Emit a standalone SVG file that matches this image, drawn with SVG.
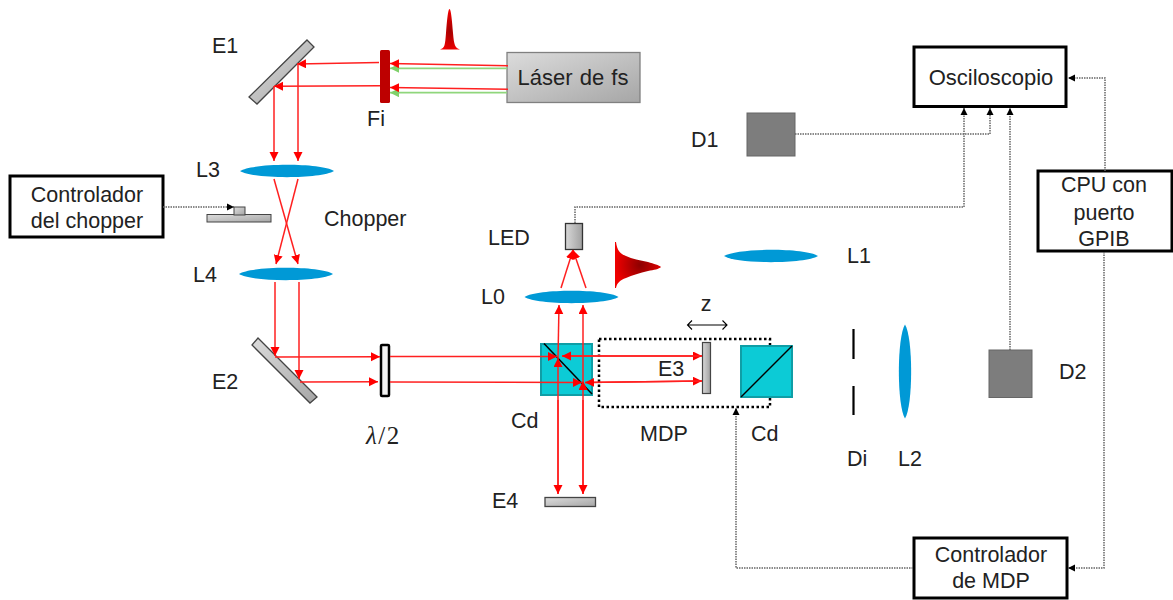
<svg xmlns="http://www.w3.org/2000/svg" width="1173" height="600" viewBox="0 0 1173 600">
<defs>
<linearGradient id="gm" x1="0" y1="0" x2="1" y2="1"><stop offset="0" stop-color="#dcdcdc"/><stop offset="1" stop-color="#a6a6a6"/></linearGradient>
<linearGradient id="gv" x1="0" y1="0" x2="1" y2="0"><stop offset="0" stop-color="#d8d8d8"/><stop offset="1" stop-color="#a0a0a0"/></linearGradient>
<radialGradient id="gp1" cx="0.5" cy="0.55" r="0.6"><stop offset="0" stop-color="#a00000"/><stop offset="1" stop-color="#ff0000"/></radialGradient>
<radialGradient id="gp2" cx="0.55" cy="0.5" r="0.55"><stop offset="0" stop-color="#8c0000"/><stop offset="1" stop-color="#f00000"/></radialGradient>
<path id="lens" d="M-47 0C-34 -8.200 34 -8.200 47 0C34 8.200 -34 8.200 -47 0Z" fill="#0099d6"/>
<marker id="r" markerUnits="userSpaceOnUse" markerWidth="10" markerHeight="10" refX="9" refY="4.500" orient="auto"><path d="M0 0L9 4.500L0 9Z" fill="#ff0000"/></marker>
<marker id="g" markerUnits="userSpaceOnUse" markerWidth="10" markerHeight="10" refX="9" refY="4.500" orient="auto"><path d="M0 0L9 4.500L0 9Z" fill="#7fd06a"/></marker>
<marker id="k" markerUnits="userSpaceOnUse" markerWidth="8" markerHeight="8" refX="7" refY="4" orient="auto"><path d="M0 0.500L7 4L0 7.500Z" fill="#000"/></marker>
</defs>
<style>
text{font-family:"Liberation Sans",Arial,sans-serif;font-size:21.5px;fill:#222}
.m{text-anchor:middle}
.box{fill:#fff;stroke:#000;stroke-width:3}
.cube{fill:#0ccbd6;stroke:#0f9ea6;stroke-width:2}
.mir{fill:url(#gm);stroke:#444;stroke-width:1.3}
.rb{fill:none;stroke:#ff2020;stroke-width:1.5}
.gb{fill:none;stroke:#8fd67c;stroke-width:1.8}
.el{fill:none;stroke:#666;stroke-width:1.5;stroke-dasharray:1.5 1}
.det{fill:#7d7d7d;stroke:#666;stroke-width:1}
</style>

<g id="E1"><path d="M307 40L314 47L257 104L249 97Z" class="mir"/><text x="212" y="53">E1</text></g>
<g id="Fi"><rect x="380" y="50" width="10" height="53" rx="1.500" fill="#bd0000"/><text x="367" y="126">Fi</text></g>
<g id="pulse1"><path d="M440 49.500C445 48 445 45 446 33C447 20 448 9 449.500 9C451 9 452 20 453 33C454 45 455 48 460 49.500Z" fill="url(#gp1)"/></g>
<g id="laser"><rect x="507" y="52.500" width="133" height="50" fill="url(#gm)" stroke="#808080" stroke-width="1.300"/><text x="573" y="85" class="m" style="font-size:22px;word-spacing:1px">Láser de fs</text></g>
<g id="L3"><use href="#lens" x="287" y="171"/><text x="196" y="177">L3</text></g>
<g id="chopper"><rect x="207" y="214.500" width="64" height="7.500" fill="url(#gm)" stroke="#444" stroke-width="1"/><rect x="234" y="207" width="11" height="8" fill="url(#gm)" stroke="#444" stroke-width="1"/><text x="324" y="226">Chopper</text></g>
<g id="ctrl-chopper"><rect x="10" y="176" width="153" height="61" class="box"/><text x="87" y="202" class="m">Controlador</text><text x="87" y="228" class="m">del chopper</text></g>
<g id="L4"><use href="#lens" x="286" y="274"/><text x="193" y="282">L4</text></g>
<g id="E2"><path d="M258 338L317 397L310 403L252 345Z" class="mir"/><text x="212" y="389">E2</text></g>
<g id="waveplate"><rect x="381" y="345" width="8" height="51" rx="1" fill="#f2f2f2" stroke="#000" stroke-width="2.500"/><text x="366" y="444" style="font-family:'Liberation Serif',serif;font-size:25px;letter-spacing:1.500px"><tspan font-style="italic">λ</tspan>/2</text></g>
<g id="LED"><rect x="565.500" y="223.500" width="17" height="26" fill="url(#gv)" stroke="#333" stroke-width="1.300"/><text x="488" y="245">LED</text></g>
<g id="L0"><use href="#lens" x="571.500" y="297"/><text x="481" y="304">L0</text></g>
<g id="pulse2"><path d="M615 242L616 242C617 250 620 254 626 256C632 259 640 260 648 262C654 264 659 265 661 267C659 269 654 270 648 271C640 273 632 275 626 278C620 280 617 283 616 288L615 288Z" fill="url(#gp2)"/></g>
<g id="L1"><use href="#lens" x="771" y="256"/><text x="847" y="263">L1</text></g>
<g id="MDP"><rect x="599" y="339" width="171" height="68" fill="none" stroke="#000" stroke-width="2.500" stroke-dasharray="2.500 2.500"/><text x="640" y="441">MDP</text></g>
<g id="Cd1"><rect x="541" y="344" width="51" height="51" class="cube"/><path d="M544 343.500L592 394" stroke="#000" stroke-width="1.500"/><text x="511" y="428">Cd</text></g>
<g id="E3"><rect x="702.500" y="342.500" width="8" height="51" fill="url(#gv)" stroke="#444" stroke-width="1.200"/><text x="658" y="376">E3</text></g>
<g id="z"><text x="706" y="311" class="m">z</text></g>
<g id="Cd2"><rect x="741" y="346" width="51" height="51" class="cube"/><path d="M741 397L792 346" stroke="#000" stroke-width="1.500"/><text x="751" y="441">Cd</text></g>
<g id="E4"><rect x="545" y="497.500" width="50.500" height="9" fill="url(#gm)" stroke="#444" stroke-width="1.300"/><text x="492" y="508">E4</text></g>
<g id="Di"><path d="M853.500 329V359M853.500 386V415" stroke="#000" stroke-width="2.200" fill="none"/><text x="847" y="466">Di</text></g>
<g id="L2"><use href="#lens" transform="translate(905 371.500) rotate(90)"/><text x="898" y="466">L2</text></g>
<g id="D1"><rect x="747" y="113" width="48" height="43" class="det"/><text x="691" y="147">D1</text></g>
<g id="D2"><rect x="989" y="350" width="43" height="47.500" class="det"/><text x="1059" y="379">D2</text></g>
<g id="osc"><rect x="914" y="47" width="152" height="59.500" class="box"/><text x="991" y="85" class="m" style="font-size:22px">Osciloscopio</text></g>
<g id="cpu"><rect x="1038" y="171" width="134" height="80" class="box"/><text x="1104" y="192" class="m">CPU con</text><text x="1104" y="220" class="m">puerto</text><text x="1104" y="246" class="m">GPIB</text></g>
<g id="ctrl-mdp"><rect x="914" y="538" width="153" height="60" class="box"/><text x="991" y="562" class="m">Controlador</text><text x="991" y="588" class="m">de MDP</text></g>

<g id="connectors">
<path class="gb" d="M507 68.300L390 68.300" marker-end="url(#g)"/>
<path class="gb" d="M507 92.700L390 92.700" marker-end="url(#g)"/>
<path class="rb" d="M508 65.700L390 63.500" marker-end="url(#r)"/>
<path class="rb" d="M508 89.300L390 87.500" marker-end="url(#r)"/>
<path class="rb" d="M379 62.500L297 64" marker-end="url(#r)"/>
<path class="rb" d="M380 85.700L274 86.300" marker-end="url(#r)"/>
<path class="rb" d="M298 64L298 161" marker-end="url(#r)"/>
<path class="rb" d="M274 86L274 161" marker-end="url(#r)"/>
<path class="rb" d="M274 179L298 264" marker-end="url(#r)"/>
<path class="rb" d="M298 179L276 264" marker-end="url(#r)"/>
<path class="rb" d="M275 282L275 356" marker-end="url(#r)"/>
<path class="rb" d="M299 282L299 379" marker-end="url(#r)"/>
<path class="rb" d="M275 357L380 356.700" marker-end="url(#r)"/>
<path class="rb" d="M300 382L378 381.700" marker-end="url(#r)"/>
<path class="rb" d="M390 356.500L557 356.500" marker-end="url(#r)"/>
<path class="rb" d="M390 382L582 382.500" marker-end="url(#r)"/>
<path class="rb" d="M562 356L702 356" marker-end="url(#r)"/>
<path class="rb" d="M702 356L562 356" marker-end="url(#r)"/>
<path class="rb" d="M585 382.500L702 381" marker-end="url(#r)"/>
<path class="rb" d="M702 381L585 382.500" marker-end="url(#r)"/>
<path class="rb" d="M558 494L558 358" marker-end="url(#r)"/>
<path class="rb" d="M583 494L583 381" marker-end="url(#r)"/>
<path class="rb" d="M558 358L559 305" marker-end="url(#r)"/>
<path class="rb" d="M583 381L583 305" marker-end="url(#r)"/>
<path class="rb" d="M558 400L558 494" marker-end="url(#r)"/>
<path class="rb" d="M583 400L583 494" marker-end="url(#r)"/>
<path class="rb" d="M561 288L573 250" marker-end="url(#r)"/>
<path class="rb" d="M586 288L573 250" marker-end="url(#r)"/>
<path class="el" d="M163 207L234 207" marker-end="url(#k)"/>
<path class="el" d="M575 223L575 207L964 207L964 108" marker-end="url(#k)"/>
<path class="el" d="M795 134L990 134L990 108" marker-end="url(#k)"/>
<path class="el" d="M1010 350L1010 108" marker-end="url(#k)"/>
<path class="el" d="M1105 171L1105 78L1068 78" marker-end="url(#k)"/>
<path class="el" d="M1104 252L1104 568L1068 568" marker-end="url(#k)"/>
<path class="el" d="M913 568L736 568L736 408" marker-end="url(#k)"/>
<path d="M692 320.500L687.500 325L692 329.500M687.500 325L727 325M722.500 320.500L727 325L722.500 329.500" fill="none" stroke="#000" stroke-width="1.100"/>
</g>
</svg>
